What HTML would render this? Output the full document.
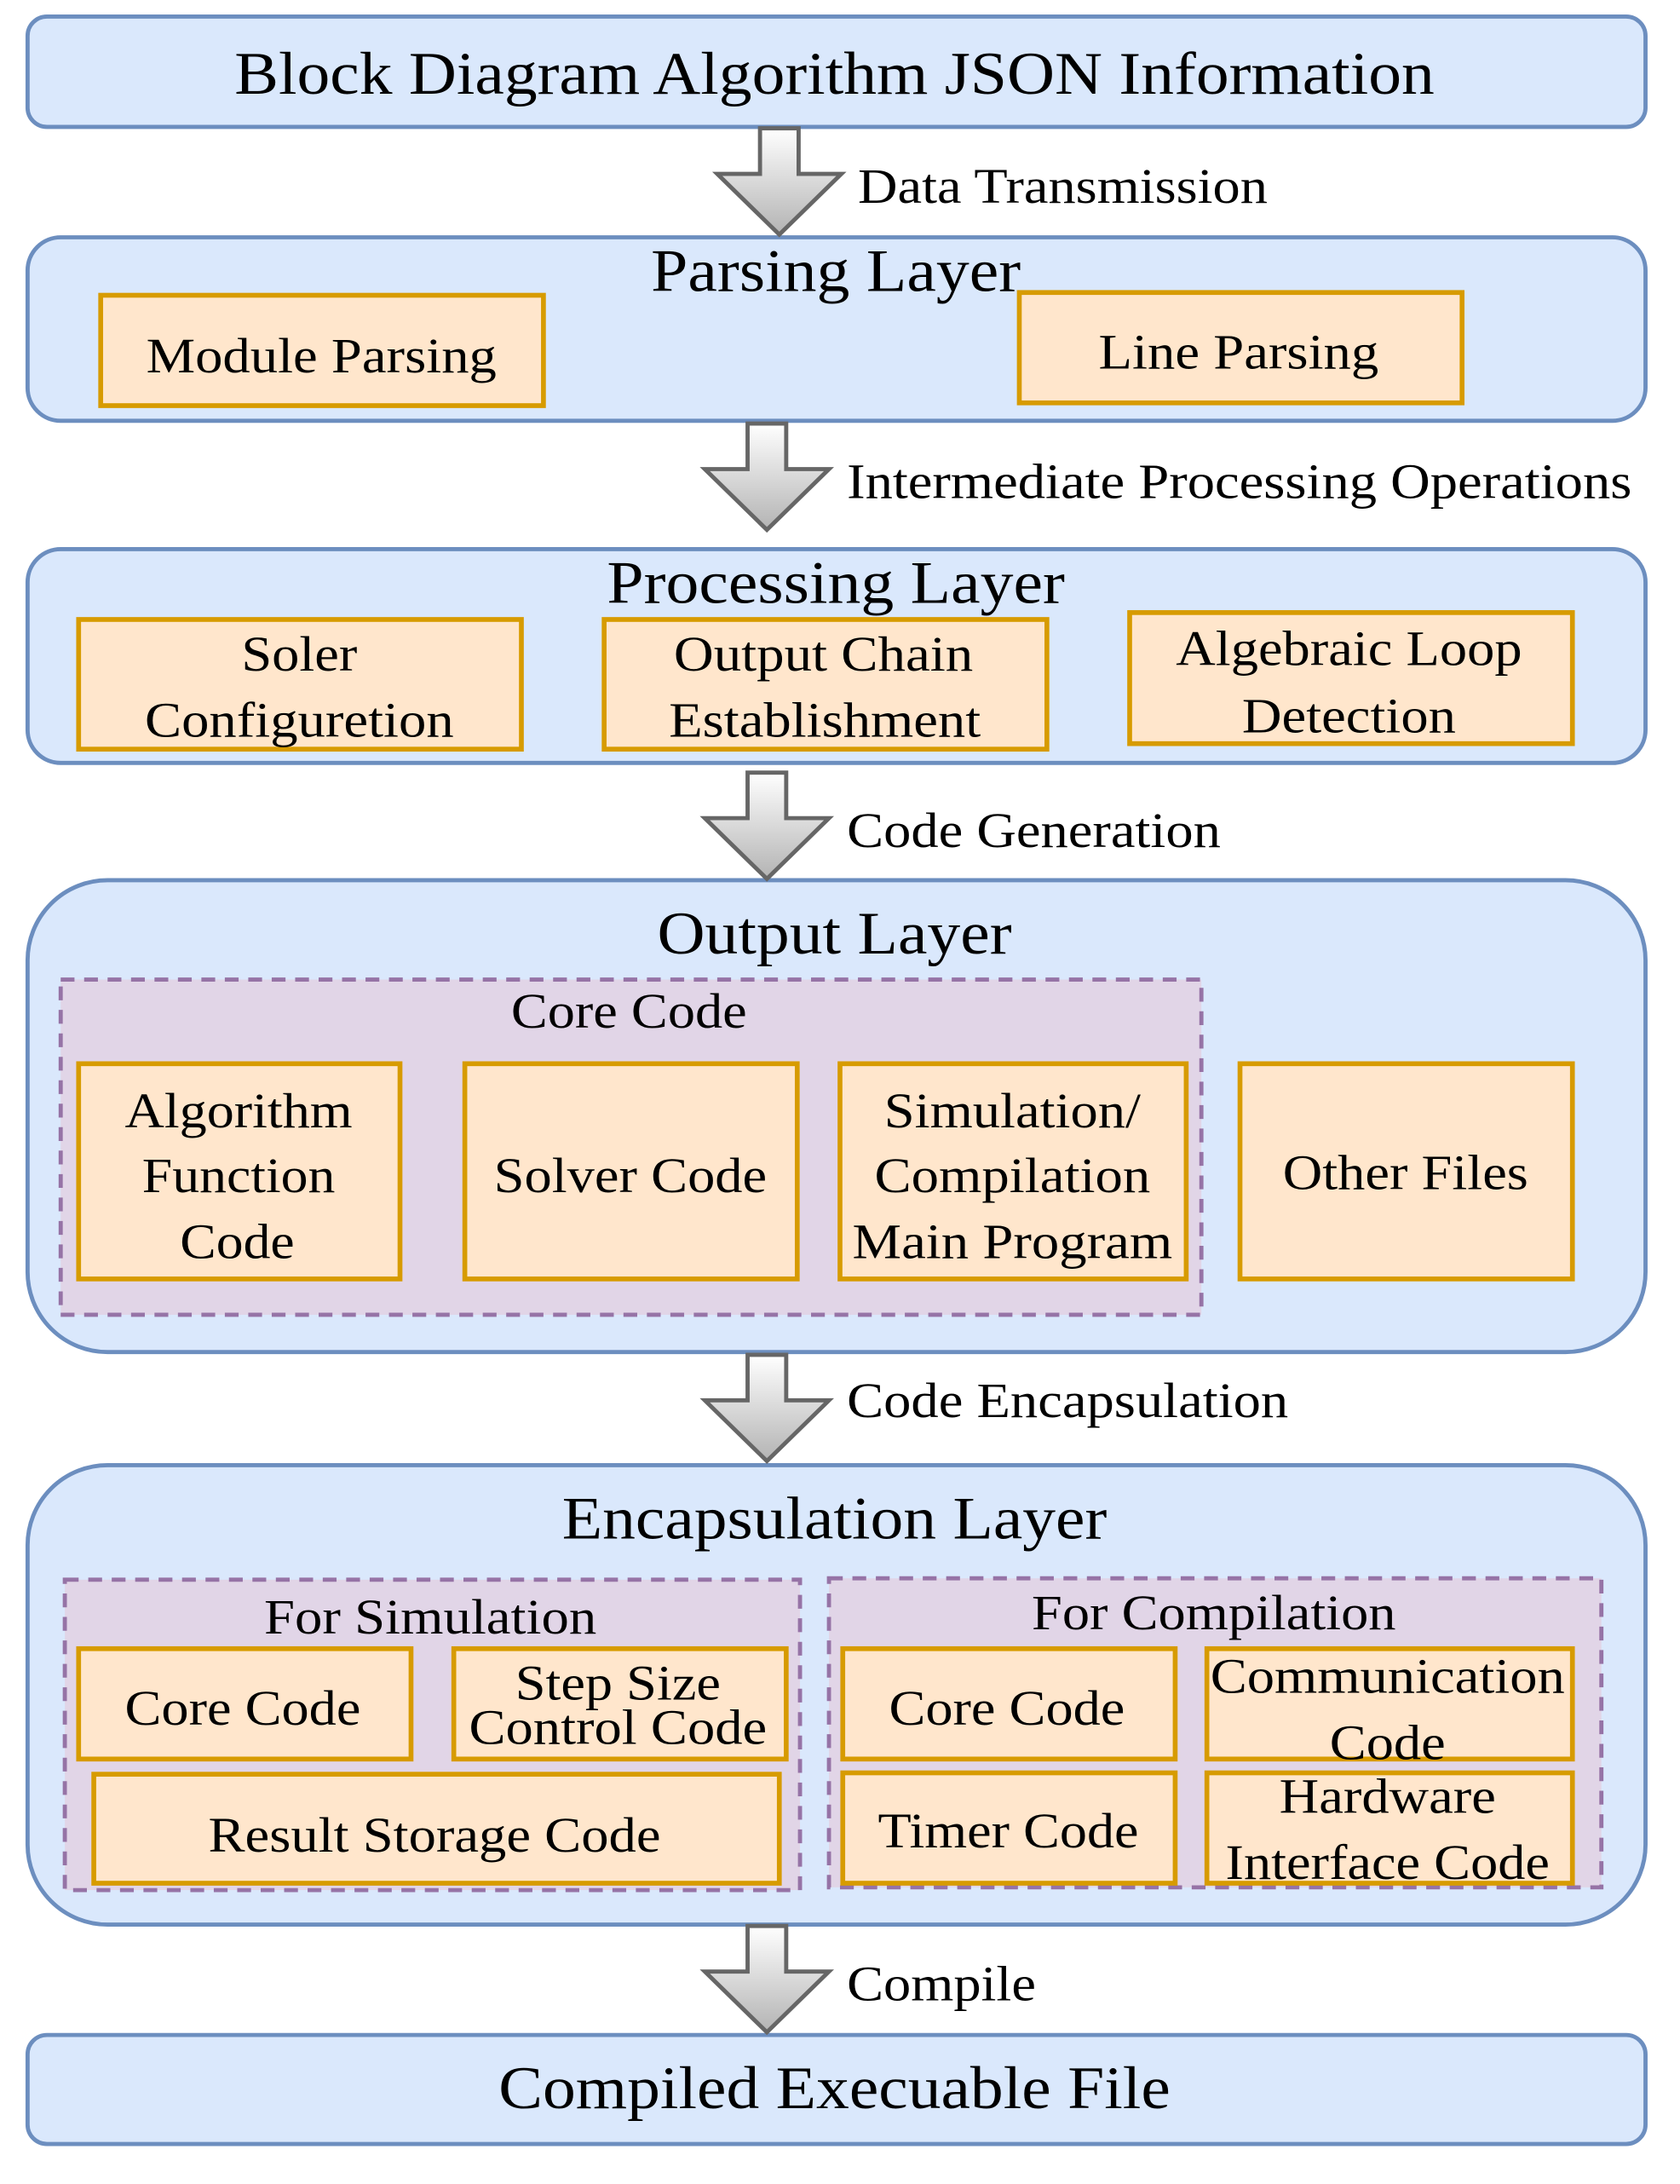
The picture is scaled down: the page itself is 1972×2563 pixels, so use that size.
<!DOCTYPE html>
<html><head><meta charset="utf-8"><style>
html,body{margin:0;padding:0;background:#fff;}
svg{display:block;}
text{font-family:"Liberation Serif",serif;fill:#000;}
</style></head><body>
<svg width="1972" height="2563" viewBox="0 0 1218 1583" xmlns="http://www.w3.org/2000/svg">
<defs>
<linearGradient id="g" x1="0" y1="0" x2="0" y2="1"><stop offset="0" stop-color="#ffffff"/><stop offset="1" stop-color="#b3b3b3"/></linearGradient>
<g id="arr"><path d="M-14,0 L14,0 L14,33 L45,33 L0,77 L-45,33 L-14,33 Z" fill="url(#g)" stroke="#666" stroke-width="3"/></g>
</defs>
<g fill="#dae8fc" stroke="#6c8ebf" stroke-width="3">
<rect x="20" y="12" width="1173" height="80" rx="14"/>
<rect x="20" y="172" width="1173" height="133" rx="24"/>
<rect x="20" y="398" width="1173" height="155" rx="24"/>
<rect x="20" y="638" width="1173" height="342" rx="58"/>
<rect x="20" y="1062" width="1173" height="333" rx="58"/>
<rect x="20" y="1475" width="1173" height="79" rx="14"/>
</g>
<use href="#arr" x="565" y="93"/>
<use href="#arr" x="556" y="307"/>
<use href="#arr" x="556" y="560"/>
<use href="#arr" x="556" y="982"/>
<use href="#arr" x="556" y="1396"/>
<g fill="#e1d5e7" stroke="#9673a6" stroke-width="3" stroke-dasharray="10,7">
<rect x="44" y="710" width="827" height="243"/>
<rect x="47" y="1145" width="533" height="225"/>
<rect x="601" y="1144" width="560" height="224"/>
</g>
<g fill="#ffe6cc" stroke="#d79b00" stroke-width="3.5">
<rect x="73" y="214" width="321" height="80"/>
<rect x="739" y="212" width="321" height="80"/>
<rect x="57" y="449" width="321" height="94"/>
<rect x="438" y="449" width="321" height="94"/>
<rect x="819" y="444" width="321" height="95"/>
<rect x="57" y="771" width="233" height="156"/>
<rect x="337" y="771" width="241" height="156"/>
<rect x="609" y="771" width="251" height="156"/>
<rect x="899" y="771" width="241" height="156"/>
<rect x="57" y="1195" width="241" height="80"/>
<rect x="329" y="1195" width="241" height="80"/>
<rect x="68" y="1286" width="497" height="79"/>
<rect x="611" y="1195" width="241" height="80"/>
<rect x="875" y="1195" width="265" height="80"/>
<rect x="611" y="1285" width="241" height="80"/>
<rect x="875" y="1285" width="265" height="80"/>
</g>
<g text-anchor="middle" font-size="44" lengthAdjust="spacingAndGlyphs">
<text x="605" y="68" textLength="870" lengthAdjust="spacingAndGlyphs">Block Diagram Algorithm JSON Information</text>
<text x="606" y="211" textLength="268" lengthAdjust="spacingAndGlyphs">Parsing Layer</text>
<text x="606" y="437" textLength="332" lengthAdjust="spacingAndGlyphs">Processing Layer</text>
<text x="605" y="691" textLength="257" lengthAdjust="spacingAndGlyphs">Output Layer</text>
<text x="605" y="1115" textLength="395" lengthAdjust="spacingAndGlyphs">Encapsulation Layer</text>
<text x="605" y="1528" textLength="487" lengthAdjust="spacingAndGlyphs">Compiled Execuable File</text>
</g>
<g font-size="36">
<text x="622" y="147" textLength="297" lengthAdjust="spacingAndGlyphs">Data Transmission</text>
<text x="614" y="361" textLength="569" lengthAdjust="spacingAndGlyphs">Intermediate Processing Operations</text>
<text x="614" y="614" textLength="271" lengthAdjust="spacingAndGlyphs">Code Generation</text>
<text x="614" y="1027" textLength="320" lengthAdjust="spacingAndGlyphs">Code Encapsulation</text>
<text x="614" y="1450" textLength="137" lengthAdjust="spacingAndGlyphs">Compile</text>
</g>
<g text-anchor="middle" font-size="36">
<text x="233" y="270" textLength="254" lengthAdjust="spacingAndGlyphs">Module Parsing</text>
<text x="898" y="267" textLength="203" lengthAdjust="spacingAndGlyphs">Line Parsing</text>
<text x="217" y="486" textLength="84" lengthAdjust="spacingAndGlyphs">Soler</text>
<text x="217" y="534" textLength="224" lengthAdjust="spacingAndGlyphs">Configuretion</text>
<text x="597" y="486" textLength="217" lengthAdjust="spacingAndGlyphs">Output Chain</text>
<text x="598" y="534" textLength="226" lengthAdjust="spacingAndGlyphs">Establishment</text>
<text x="978" y="482" textLength="251" lengthAdjust="spacingAndGlyphs">Algebraic Loop</text>
<text x="978" y="531" textLength="155" lengthAdjust="spacingAndGlyphs">Detection</text>
<text x="456" y="745" textLength="171" lengthAdjust="spacingAndGlyphs">Core Code</text>
<text x="173" y="817" textLength="165" lengthAdjust="spacingAndGlyphs">Algorithm</text>
<text x="173" y="864" textLength="140" lengthAdjust="spacingAndGlyphs">Function</text>
<text x="172" y="912" textLength="83" lengthAdjust="spacingAndGlyphs">Code</text>
<text x="457" y="864" textLength="198" lengthAdjust="spacingAndGlyphs">Solver Code</text>
<text x="734" y="817" textLength="186" lengthAdjust="spacingAndGlyphs">Simulation/</text>
<text x="734" y="864" textLength="200" lengthAdjust="spacingAndGlyphs">Compilation</text>
<text x="734" y="912" textLength="232" lengthAdjust="spacingAndGlyphs">Main Program</text>
<text x="1019" y="862" textLength="178" lengthAdjust="spacingAndGlyphs">Other Files</text>
<text x="312" y="1184" textLength="241" lengthAdjust="spacingAndGlyphs">For Simulation</text>
<text x="880" y="1181" textLength="264" lengthAdjust="spacingAndGlyphs">For Compilation</text>
<text x="176" y="1250" textLength="171" lengthAdjust="spacingAndGlyphs">Core Code</text>
<text x="448" y="1232" textLength="149" lengthAdjust="spacingAndGlyphs">Step Size</text>
<text x="448" y="1264" textLength="216" lengthAdjust="spacingAndGlyphs">Control Code</text>
<text x="315" y="1342" textLength="328" lengthAdjust="spacingAndGlyphs">Result Storage Code</text>
<text x="730" y="1250" textLength="171" lengthAdjust="spacingAndGlyphs">Core Code</text>
<text x="1006" y="1227" textLength="257" lengthAdjust="spacingAndGlyphs">Communication</text>
<text x="1006" y="1275" textLength="84" lengthAdjust="spacingAndGlyphs">Code</text>
<text x="731" y="1339" textLength="189" lengthAdjust="spacingAndGlyphs">Timer Code</text>
<text x="1006" y="1314" textLength="157" lengthAdjust="spacingAndGlyphs">Hardware</text>
<text x="1006" y="1362" textLength="235" lengthAdjust="spacingAndGlyphs">Interface Code</text>
</g>
</svg>
</body></html>
